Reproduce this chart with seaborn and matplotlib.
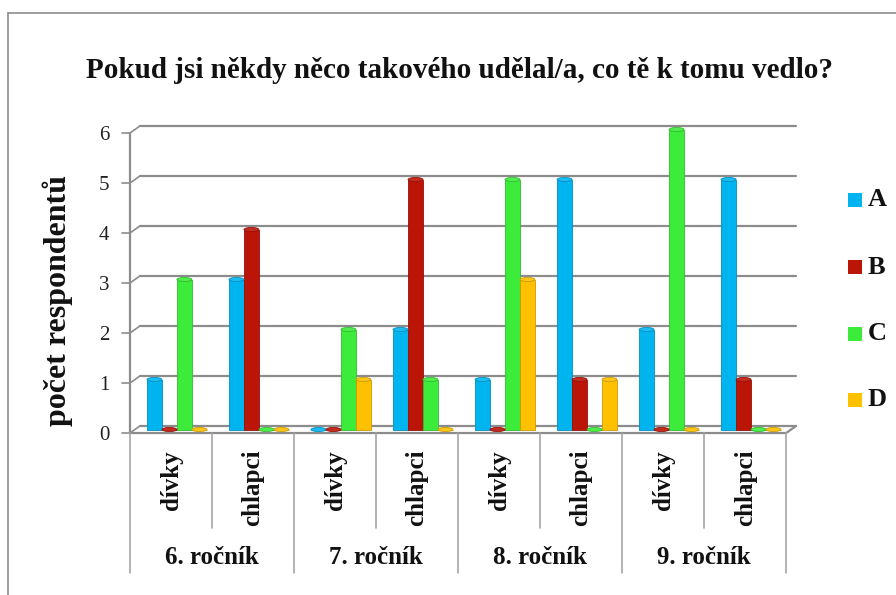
import matplotlib
matplotlib.use("Agg")
import matplotlib.pyplot as plt
import seaborn as sns
import pandas as pd
from matplotlib.patches import Ellipse, Rectangle
from matplotlib.lines import Line2D
import matplotlib.transforms as mtransforms

# ---------------- data ----------------
grades = ["6. ročník", "7. ročník", "8. ročník", "9. ročník"]
genders = ["dívky", "chlapci"]
series = ["A", "B", "C", "D"]
A = [1, 3, 0, 2, 1, 5, 2, 5]
B = [0, 4, 0, 5, 0, 1, 0, 1]
C = [3, 0, 2, 1, 5, 0, 6, 0]
D = [0, 0, 1, 0, 3, 1, 0, 0]
colors = ["#00B4F0", "#BB1508", "#3DEB3A", "#FFC000"]
title = "Pokud jsi někdy něco takového udělal/a, co tě k tomu vedlo?"
ylabel = "počet respondentů"
yticks = [0, 1, 2, 3, 4, 5, 6]

categories = [f"{g}|{s}" for g in grades for s in genders]
rows = []
for name, vals in zip(series, [A, B, C, D]):
    for cat, v in zip(categories, vals):
        rows.append({"cat": cat, "series": name, "value": v})
df = pd.DataFrame(rows)

sns.set_theme(style="white")
plt.rcParams["font.family"] = ["Liberation Serif", "DejaVu Serif"]

W, H = 896, 595
fig = plt.figure(figsize=(W / 100, H / 100), dpi=100)

# pixel geometry of plot area
x0_px, x1_px = 130, 796
y0_px, y1_px = 433, 123
ax = fig.add_axes([x0_px / W, 1 - y0_px / H, (x1_px - x0_px) / W, (y0_px - y1_px) / H])

dx, dy = 0.12, 0.14  # depth offset in data units (3-D look)

sns.barplot(data=df, x="cat", y="value", hue="series", order=categories,
            hue_order=series, palette=colors, width=0.73, ax=ax,
            saturation=1, legend=False, zorder=3, edgecolor="none")

ax.set_xlim(-0.5, 7.5 + dx)
ax.set_ylim(0, 6.2)
for s in ax.spines.values():
    s.set_visible(False)
ax.set_xticks([])
ax.set_yticks(yticks)
ax.set_yticklabels([str(t) for t in yticks], fontsize=15, color="#222222")
ax.tick_params(axis="y", length=0, pad=15)
ax.set_xlabel("")
ax.set_ylabel("")
ax.grid(False)

grid_c = "#8C8C8C"
# back wall gridlines and left diagonals
for v in yticks:
    ax.plot([-0.5 + dx, 7.5 + dx], [v + dy, v + dy], color=grid_c, lw=1.6, zorder=1, clip_on=False)
    ax.plot([-0.5, -0.5 + dx], [v, v + dy], color=grid_c, lw=1.2, zorder=1, clip_on=False)
    ax.plot([-0.6, -0.5], [v, v], color=grid_c, lw=1.2, zorder=1, clip_on=False)
# front axis line
ax.plot([-0.5, -0.5], [0, 6], color=grid_c, lw=1.6, zorder=2, clip_on=False)
# floor front edge and right edge
ax.plot([-0.5, 7.5], [0, 0], color=grid_c, lw=1.6, zorder=2, clip_on=False)
ax.plot([7.5, 7.5 + dx], [0, dy], color=grid_c, lw=1.6, zorder=2, clip_on=False)

# cylinder caps + depth offset (perspective)
for p in ax.patches:
    x = p.get_x() + dx * 0.6
    p.set_x(x)
    w = p.get_width()
    h = p.get_height()
    fc = p.get_facecolor()
    p.set_y(p.get_y() + dy * 0.5)
    dark = tuple(max(0, c * 0.8) for c in fc[:3])
    p.set_edgecolor(dark)
    p.set_linewidth(0.6)
    light = tuple(min(1, c * 0.9 + 0.1) for c in fc[:3])
    top = h + dy * 0.5
    cap = Ellipse((x + w / 2, top), w, 0.08, facecolor=light, edgecolor=dark, lw=0.6, zorder=4)
    ax.add_patch(cap)

# category axis below
trans = mtransforms.blended_transform_factory(ax.transData, fig.transFigure)
def fy(py):
    return 1 - py / H
sep_c = "#A6A6A6"
for i in range(4):
    xs = 2 * i + 0.5
    ax.add_line(Line2D([xs, xs], [fy(433), fy(528)], transform=trans, color=sep_c, lw=1.2, clip_on=False))
for i in range(5):
    xs = 2 * i - 0.5
    ax.add_line(Line2D([xs, xs], [fy(433), fy(573)], transform=trans, color=sep_c, lw=1.2, clip_on=False))
for i, cat in enumerate(categories):
    g, s = cat.split("|")
    ax.text(i, fy(450), s, transform=trans, rotation=90, ha="center", va="top",
            fontsize=18, fontweight="bold", color="#111111")
for j, g in enumerate(grades):
    ax.text(2 * j + 0.5, fy(558), g, transform=trans, ha="center", va="center",
            fontsize=18, fontweight="bold", color="#111111")

# title and ylabel
fig.text(460 / W, fy(70), title, ha="center", va="center", fontsize=21, fontweight="bold", color="#111111")
fig.text(58 / W, fy(300), ylabel, ha="center", va="center", rotation=90, fontsize=23, fontweight="bold", color="#111111")

# legend
leg_y = [200, 267, 334, 400]
for name, c, py in zip(series, colors, leg_y):
    fig.patches.append(Rectangle((848 / W, fy(py + 7)), 14 / W, 14 / H, transform=fig.transFigure,
                                 facecolor=c, edgecolor="none"))
    fig.text(868 / W, fy(py), name, ha="left", va="center", fontsize=19, fontweight="bold", color="#111111")

# outer chart frame (left and top visible)
fig.add_artist(Line2D([8 / W, 8 / W], [fy(13), 0], transform=fig.transFigure, color="#8C8C8C", lw=1.2))
fig.add_artist(Line2D([8 / W, 1], [fy(13), fy(13)], transform=fig.transFigure, color="#8C8C8C", lw=1.2))

fig.savefig("out.png", dpi=100)
